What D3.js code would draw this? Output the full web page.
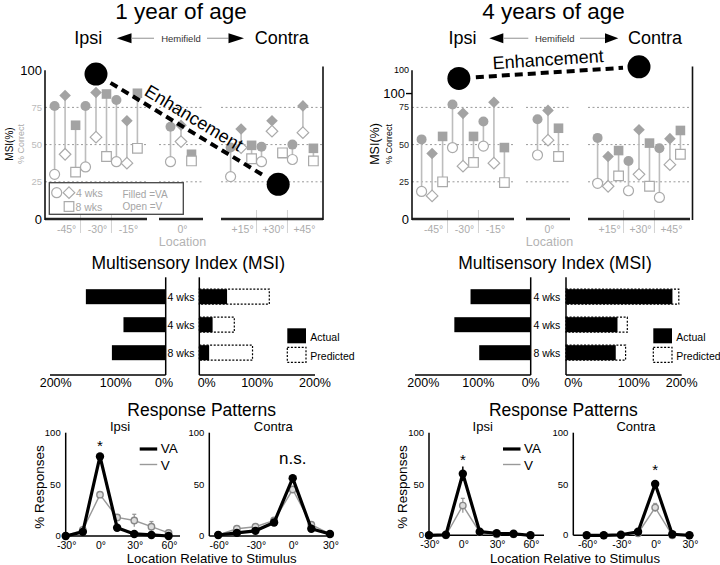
<!DOCTYPE html>
<html><head><meta charset="utf-8">
<script src="https://cdn.jsdelivr.net/npm/d3@7"></script>
<style>
body{margin:0;background:#fff}
svg{display:block}
text{font-family:"Liberation Sans",Arial,Helvetica,sans-serif}
</style>
</head><body>
<svg id="c" width="720" height="565"></svg>
<script>
// ---------------- DATA ----------------
const locations = ["-45°","-30°","-15°","0°","+15°","+30°","+45°"];
const locDeg = [-45,-30,-15,0,15,30,45];
const subjects = ["circle","diamond","square"]; // 4 wks (circle, diamond), 8 wks (square)

// 1 year of age, % correct, filled = VA, open = V
const y1CircleVA  = [76, 76, 80, 62, 48, 48.5, 50];
const y1CircleV   = [30, 35, 38.5, 38.5, 28.5, 38.5, 40];
const y1DiamondVA = [83, 85, 66, 63, 60.5, 66, 76];
const y1DiamondV  = [43.5, 55, 37.5, 52, 48, 59, 58];
const y1SquareVA  = [63, 84, 84.5, 43.5, 49.5, 44, 47.5];
const y1SquareV   = [31.5, 42, 47.5, 39, 40.5, 44.5, 39];

// 4 years of age
const y4CircleVA  = [53.5, 77, 65.5, 67, 54.5, 39, 47.5];
const y4CircleV   = [18.5, 48, 49, 43, 24, 19, 14.5];
const y4DiamondVA = [44, 71, 78.5, 73, 42, 60, 54];
const y4DiamondV  = [15.5, 35.5, 37.5, 53, 22, 30, 36.5];
const y4SquareVA  = [55.5, 55.5, 48, 61, 46, 51, 59.5];
const y4SquareV   = [25, 38, 24.5, 42, 29, 22, 43.5];

// Enhancement (MSI %) markers
const y1EnhLoc = [-30, 33];
const y1EnhMSI = [97.4, 23.3];
const y4EnhLoc = [-32, 30];
const y4EnhMSI = [94.5, 102.3];

// y tick labels of the top panels
const y1YTicks = [100, 75, 50, 25, 0];
const y1YTickText = ["100","75","50","25","0"];
const y4YTicks = [100, 84.3, 75, 50, 25, 0];
const y4YTickText = ["100","100","75","50","25","0"];

// Multisensory Index (MSI), %
const msiRows = ["4 wks","4 wks","8 wks"];
const y1IpsiActual = [138, 73, 93];
const y1ContraActual = [48, 23, 17];
const y1ContraPredicted = [121, 60.5, 92];
const y4IpsiActual = [104, 132, 89];
const y4ContraActual = [184, 89, 86];
const y4ContraPredicted = [195, 106, 103];
const msiTicks = [200, 100, 0];

// Response patterns, % responses
const ipsiDeg = [-30,-15,0,15,30,45,60];
const contraDeg = [-60,-45,-30,-15,0,15,30];
const ipsiTicks = [-30,0,30,60];
const contraTicks = [-60,-30,0,30];
const respYTicks = [0,50,100];

const y1IpsiVA = [0, 4, 77, 8, 2, 1, 0];
const y1IpsiVAErr = [0, 1, 2, 1, 0.5, 0, 0];
const y1IpsiV = [0, 6, 40, 18, 15, 9, 3];
const y1IpsiVErr = [0, 2, 2, 2, 6, 5, 1];
const y1ContraVA = [1, 3, 5, 13, 56, 7, 2];
const y1ContraVAErr = [0, 1, 1, 1, 2, 1, 0];
const y1ContraV = [1, 7, 9, 15, 45, 11, 2];
const y1ContraVErr = [0, 2, 1, 1, 2, 2, 0];

const y4IpsiVA = [0, 0.5, 60, 3.5, 2, 1.5, 0];
const y4IpsiVAErr = [0, 0, 7, 1, 0, 0, 0];
const y4IpsiV = [0, 0, 29, 3, 1, 1, 0];
const y4IpsiVErr = [0, 0, 7, 0, 0, 0, 0];
const y4ContraVA = [0, 0, 0.5, 3.5, 50, 1, 0];
const y4ContraVAErr = [0, 0, 0, 1, 4, 0, 0];
const y4ContraV = [0, 0, 0, 2, 27, 0, 0];
const y4ContraVErr = [0, 0, 0, 0, 4, 0, 0];

// ---------------- DRAWING ----------------
const svg = d3.select("#c");
const GRAYF = "#a3a3a3", GRAYS = "#aaaaaa", STEM = "#bdbdbd";

function txt(g, x, y, s, size, o = {}) {
  const t = g.append("text").attr("x", x).attr("y", y).text(s).attr("font-size", size)
    .attr("text-anchor", o.anchor || "middle").attr("dominant-baseline", o.base || "central")
    .attr("fill", o.fill || "#000");
  if (o.rot !== undefined) t.attr("transform", `rotate(${o.rot},${x},${y})`);
  return t;
}

// headers
const headers = [
  {title:"1 year of age", tx:181, ipsiX:88.3, contraX:281.7, hemiX:181, aL:[116.7,131.5,154], aR:[207,228.5,244]},
  {title:"4 years of age", tx:553.5, ipsiX:462.5, contraX:655, hemiX:554.7, aL:[489.3,503.3,528.3], aR:[580,605,618.3]}
];
headers.forEach(h => {
  const g = svg.append("g");
  txt(g, h.tx, 19, h.title, 22.5, {base:"alphabetic"});
  txt(g, h.ipsiX, 38.3, "Ipsi", 18);
  txt(g, h.contraX, 38.3, "Contra", 18);
  txt(g, h.hemiX, 38.3, "Hemifield", 9.5, {fill:"#333"});
  const yA = 38.3;
  g.append("path").attr("d", `M${h.aL[0]},${yA}L${h.aL[1]},${yA-5}L${h.aL[1]},${yA+5}Z`).attr("fill", "#000");
  g.append("line").attr("x1", h.aL[1]).attr("x2", h.aL[2]).attr("y1", yA).attr("y2", yA).attr("stroke", "#aaa").attr("stroke-width", 1.3);
  g.append("line").attr("x1", h.aR[0]).attr("x2", h.aR[1]).attr("y1", yA).attr("y2", yA).attr("stroke", "#aaa").attr("stroke-width", 1.3);
  g.append("path").attr("d", `M${h.aR[2]},${yA}L${h.aR[1]},${yA-5}L${h.aR[1]},${yA+5}Z`).attr("fill", "#000");
});

// top panels
const segments = [{locs:[-45,-30,-15], a:0, b:102}, {locs:[0], a:114, b:158}, {locs:[15,30,45], a:176, b:278}];

const shapePath = {
  circle: d3.symbol(d3.symbolCircle, Math.PI * 25)(),
  diamond: "M0,-5.8L5.8,0L0,5.8L-5.8,0Z",
  square: "M-4.8,-4.8h9.6v9.6h-9.6Z"
};

const topPanels = [
  {x0:45, w:278,
   series:{circle:[y1CircleVA,y1CircleV], diamond:[y1DiamondVA,y1DiamondV], square:[y1SquareVA,y1SquareV]},
   yTicks:y1YTicks, yText:y1YTickText,
   yStyle:[{s:13,c:"#000"},{s:9.5,c:"#bbb"},{s:9.5,c:"#bbb"},{s:9.5,c:"#bbb"},{s:13,c:"#000"}],
   enhLoc:y1EnhLoc, enhMSI:y1EnhMSI, legend:true,
   msi:{x:9.5, s:10}, corr:{x:20.5, s:9, c:"#aaa"}},
  {x0:412, w:280.5,
   series:{circle:[y4CircleVA,y4CircleV], diamond:[y4DiamondVA,y4DiamondV], square:[y4SquareVA,y4SquareV]},
   yTicks:y4YTicks, yText:y4YTickText,
   yStyle:[{s:9,c:"#000"},{s:13,c:"#000",tick:true},{s:9,c:"#222"},{s:9,c:"#222"},{s:9,c:"#222"},{s:13,c:"#000"}],
   enhLoc:y4EnhLoc, enhMSI:y4EnhMSI, legend:false,
   msi:{x:375, s:12.5}, corr:{x:389, s:9, c:"#000"}}
];

topPanels.forEach(p => {
  const g = svg.append("g");
  const x0 = p.x0;
  const y = d3.scaleLinear().domain([0, 100]).range([219, 70.2]);
  const segs = segments.map(s => ({...s, sc: d3.scalePoint().domain(s.locs).range([x0 + s.a, x0 + s.b]).padding(0.65)}));
  const xOf = deg => { const s = segs.find(s => s.locs.includes(deg)); return s.sc(deg); };
  const xCont = d3.scaleLinear().domain(locDeg).range(locDeg.map(xOf));
  const sub = d3.scalePoint().domain(subjects).range([-10.5, 10.5]);

  segs.forEach(s => [25, 50, 75].forEach(v => {
    g.append("line").attr("x1", x0 + s.a).attr("x2", x0 + s.b).attr("y1", y(v)).attr("y2", y(v))
      .attr("stroke", "#9a9a9a").attr("stroke-width", 1).attr("stroke-dasharray", "2,2.5");
  }));
  segs.forEach(s => {
    for (let i = 1; i < s.locs.length; i++) {
      const xm = (s.sc(s.locs[i - 1]) + s.sc(s.locs[i])) / 2;
      g.append("line").attr("x1", xm).attr("x2", xm).attr("y1", 210).attr("y2", 233).attr("stroke", "#d2d2d2").attr("stroke-width", 1);
    }
  });
  segs.forEach(s => g.append("line").attr("x1", x0 + s.a).attr("x2", x0 + s.b).attr("y1", y(0)).attr("y2", y(0)).attr("stroke", "#222").attr("stroke-width", 2.4));
  g.append("line").attr("x1", x0).attr("x2", x0).attr("y1", y(0) + 1).attr("y2", y(100)).attr("stroke", "#111").attr("stroke-width", 1.6);
  g.append("line").attr("x1", x0 + p.w).attr("x2", x0 + p.w).attr("y1", y(0) + 1).attr("y2", 66.5).attr("stroke", "#111").attr("stroke-width", 1.6);

  locDeg.forEach((d, i) => txt(g, xOf(d) + 1.5, 228.5, locations[i], 10.5, {fill:"#acacac"}));
  txt(g, xOf(0) + 1.5, 241.5, "Location", 12.5, {fill:"#b3b3b3"});

  p.yTicks.forEach((v, i) => {
    const st = p.yStyle[i];
    txt(g, x0 - (st.tick ? 7 : 3), y(v), p.yText[i], st.s, {anchor:"end", fill:st.c});
    if (st.tick) g.append("line").attr("x1", x0 - 6).attr("x2", x0).attr("y1", y(v)).attr("y2", y(v)).attr("stroke", "#000").attr("stroke-width", 1.4);
  });
  txt(g, p.msi.x, 144, "MSI(%)", p.msi.s, {rot:-90});
  txt(g, p.corr.x, 144, "% Correct", p.corr.s, {rot:-90, fill:p.corr.c});

  const pts = [];
  subjects.forEach(s => locDeg.forEach((d, i) => pts.push({s, x: xOf(d) + sub(s), va: p.series[s][0][i], v: p.series[s][1][i]})));
  g.selectAll(".stem").data(pts).join("line").attr("x1", d => d.x).attr("x2", d => d.x)
    .attr("y1", d => y(d.va)).attr("y2", d => y(d.v)).attr("stroke", STEM).attr("stroke-width", 1.6);
  g.selectAll(".f").data(pts).join("path").attr("d", d => shapePath[d.s])
    .attr("transform", d => `translate(${d.x},${y(d.va)})`).attr("fill", GRAYF);
  g.selectAll(".o").data(pts).join("path").attr("d", d => shapePath[d.s])
    .attr("transform", d => `translate(${d.x},${y(d.v)})`).attr("fill", "#fff").attr("stroke", GRAYS).attr("stroke-width", 1.2);

  if (p.legend) {
    const lg = g.append("g");
    lg.append("rect").attr("x", x0 + 4.3).attr("y", 182.7).attr("width", 134).attr("height", 31.6)
      .attr("fill", "#fff").attr("stroke", "#444").attr("stroke-width", 1.3);
    lg.append("path").attr("d", shapePath.circle).attr("transform", `translate(${x0 + 11.7},192.7)`).attr("fill", "#fff").attr("stroke", GRAYS).attr("stroke-width", 1.2);
    lg.append("path").attr("d", shapePath.diamond).attr("transform", `translate(${x0 + 24},192.7)`).attr("fill", "#fff").attr("stroke", GRAYS).attr("stroke-width", 1.2);
    lg.append("path").attr("d", shapePath.square).attr("transform", `translate(${x0 + 24},206.5)`).attr("fill", "#fff").attr("stroke", GRAYS).attr("stroke-width", 1.2);
    txt(lg, x0 + 31, 192.7, "4 wks", 10.5, {anchor:"start", fill:"#a5a5a5"});
    txt(lg, x0 + 30.5, 206.5, "8 wks", 10.5, {anchor:"start", fill:"#a5a5a5"});
    txt(lg, x0 + 77.5, 194, "Filled =VA", 10, {anchor:"start", fill:"#a5a5a5"});
    txt(lg, x0 + 77.5, 206.7, "Open =V", 10, {anchor:"start", fill:"#a5a5a5"});
  }

  const e = p.enhLoc.map((l, i) => ({x: xCont(l), y: y(p.enhMSI[i])}));
  const dx = e[1].x - e[0].x, dy = e[1].y - e[0].y, L = Math.hypot(dx, dy), ux = dx / L, uy = dy / L;
  g.append("line").attr("x1", e[0].x + ux * 17).attr("y1", e[0].y + uy * 17)
    .attr("x2", e[1].x - ux * 16).attr("y2", e[1].y - uy * 16)
    .attr("stroke", "#000").attr("stroke-width", 4).attr("stroke-dasharray", "8,5");
  g.selectAll(".enh").data(e).join("circle").attr("cx", d => d.x).attr("cy", d => d.y).attr("r", 11.5).attr("fill", "#000");
  const ang = Math.atan2(dy, dx) * 180 / Math.PI;
  const mx = (e[0].x + e[1].x) / 2 + uy * 13, my = (e[0].y + e[1].y) / 2 - ux * 13;
  txt(g, mx, my, "Enhancement", 18, {rot: ang});
});

// middle panels (MSI bars)
const msiPanels = [
  {tx:188.3, zi:165.7, zc:199.3, ipsi:y1IpsiActual, act:y1ContraActual, pred:y1ContraPredicted, legX:287.3,
   nudgeI:[5.7, 7.9, -1.7], nudgeC:[7.4, 0, 0]},
  {tx:555, zi:530.7, zc:566, ipsi:y4IpsiActual, act:y4ContraActual, pred:y4ContraPredicted, legX:653.3,
   nudgeI:[8.3, 5.5, 0], nudgeC:[7.3, 10, 0]}
];
msiPanels.forEach(p => {
  const g = svg.append("g");
  txt(g, p.tx, 263, "Multisensory Index (MSI)", 17.5);
  const xi = d3.scaleLinear().domain([0, 200]).range([p.zi, p.zi - 115.7]);
  const xc = d3.scaleLinear().domain([0, 200]).range([p.zc, p.zc + 115.7]);
  const yr = d3.scalePoint().domain(d3.range(msiRows.length)).range([296.7, 352.7]);
  const bh = 15;
  g.selectAll(".pr").data(p.pred).join("rect").attr("x", xc(0)).attr("y", (d, i) => yr(i) - bh / 2)
    .attr("width", d => xc(d) - xc(0)).attr("height", bh).attr("fill", "none").attr("stroke", "#000")
    .attr("stroke-width", 1.2).attr("stroke-dasharray", "2,1.6");
  g.selectAll(".ac").data(p.act).join("rect").attr("x", xc(0)).attr("y", (d, i) => yr(i) - bh / 2)
    .attr("width", d => xc(d) - xc(0)).attr("height", bh).attr("fill", "#000");
  g.selectAll(".ip").data(p.ipsi).join("rect").attr("x", d => xi(d)).attr("y", (d, i) => yr(i) - bh / 2)
    .attr("width", d => xi(0) - xi(d)).attr("height", bh).attr("fill", "#000");
  [[xi, p.zi], [xc, p.zc]].forEach(([sc, z]) => {
    g.append("line").attr("x1", z).attr("x2", z).attr("y1", 277.3).attr("y2", 375).attr("stroke", "#000").attr("stroke-width", 1.5);
    g.append("line").attr("x1", sc(0)).attr("x2", sc(200)).attr("y1", 375).attr("y2", 375).attr("stroke", "#000").attr("stroke-width", 1.5);
  });
  msiTicks.forEach((t, i) => txt(g, xi(t) + p.nudgeI[i], 383, t + "%", 12.5));
  [0, 100, 200].forEach((t, i) => txt(g, xc(t) + p.nudgeC[i], 383, t + "%", 12.5));
  msiRows.forEach((r, i) => txt(g, (p.zi + p.zc) / 2 - 1.5, yr(i), r, 10.5));
  g.append("rect").attr("x", p.legX).attr("y", 328.3).attr("width", 18.7).attr("height", 15).attr("fill", "#000");
  g.append("rect").attr("x", p.legX).attr("y", 347.3).attr("width", 18.7).attr("height", 15).attr("fill", "none")
    .attr("stroke", "#000").attr("stroke-width", 1.2).attr("stroke-dasharray", "2,1.6");
  txt(g, p.legX + 23, 336.5, "Actual", 10.5, {anchor:"start"});
  txt(g, p.legX + 23, 355.5, "Predicted", 10.5, {anchor:"start"});
});

// bottom panels (response patterns)
const respPanels = [
  {tx:201.7, labX:39.3, xlabX:211.7, legX0:65.7,
   subs:[
     {x0:65.7, x1:180, dom:[-30,70], y0:536, y1:432.7, deg:ipsiDeg, ticks:ipsiTicks, va:y1IpsiVA, vaE:y1IpsiVAErr, v:y1IpsiV, vE:y1IpsiVErr, label:"Ipsi", labX:120, ann:"*", annSize:15, annDy:0},
     {x0:209.3, x1:333.3, dom:[-67.2,32.7], y0:536, y1:432.7, deg:contraDeg, ticks:contraTicks, va:y1ContraVA, vaE:y1ContraVAErr, v:y1ContraV, vE:y1ContraVErr, label:"Contra", labX:273.3, ann:"n.s.", annSize:17, annDy:-9}
   ]},
  {tx:563.3, labX:402.7, xlabX:575, legX0:429,
   subs:[
     {x0:429, x1:544, dom:[-30,72], y0:535.3, y1:432.7, deg:ipsiDeg, ticks:ipsiTicks, va:y4IpsiVA, vaE:y4IpsiVAErr, v:y4IpsiV, vE:y4IpsiVErr, label:"Ipsi", labX:482.7, ann:"*", annSize:15, annDy:1},
     {x0:573.3, x1:693.3, dom:[-71.7,33.4], y0:535.3, y1:432.7, deg:contraDeg, ticks:contraTicks, va:y4ContraVA, vaE:y4ContraVAErr, v:y4ContraV, vE:y4ContraVErr, label:"Contra", labX:636, ann:"*", annSize:15, annDy:-2}
   ]}
];
respPanels.forEach(p => {
  const g = svg.append("g");
  txt(g, p.tx, 409.5, "Response Patterns", 17.5);
  txt(g, p.labX, 487, "% Responses", 13.5, {rot:-90});
  txt(g, p.xlabX, 558.5, "Location Relative to Stimulus", 13.2);
  g.append("line").attr("x1", p.legX0 + 74).attr("x2", p.legX0 + 91.5).attr("y1", 449).attr("y2", 449).attr("stroke", "#000").attr("stroke-width", 3.2);
  g.append("line").attr("x1", p.legX0 + 74).attr("x2", p.legX0 + 91.5).attr("y1", 464.5).attr("y2", 464.5).attr("stroke", "#999").attr("stroke-width", 1.4);
  txt(g, p.legX0 + 95, 448.8, "VA", 13.5, {anchor:"start"});
  txt(g, p.legX0 + 95, 465, "V", 13.5, {anchor:"start"});

  p.subs.forEach(s => {
    const x = d3.scaleLinear().domain(s.dom).range([s.x0, s.x1]);
    const y = d3.scaleLinear().domain([0, 100]).range([s.y0, s.y1]);
    g.append("line").attr("x1", s.x0).attr("x2", s.x0).attr("y1", s.y0).attr("y2", s.y1).attr("stroke", "#000").attr("stroke-width", 1.5);
    g.append("line").attr("x1", s.x0).attr("x2", s.x1).attr("y1", s.y0).attr("y2", s.y0).attr("stroke", "#000").attr("stroke-width", 1.5);
    respYTicks.forEach(t => txt(g, s.x0 - 5, t === 0 ? y(t) - 1 : y(t), String(t), 9.5, {anchor:"end"}));
    s.ticks.forEach(t => txt(g, x(t) + 1, s.y0 + 9, t + "°", 10.5));
    txt(g, s.labX, 426.7, s.label, 13);

    const vPts = s.deg.map((d, i) => ({x: x(d), v: s.v[i], e: s.vE[i]}));
    const vaPts = s.deg.map((d, i) => ({x: x(d), v: s.va[i], e: s.vaE[i]}));
    const line = d3.line().x(d => d.x).y(d => y(d.v));
    const vErr = vPts.filter(d => d.e > 0);
    g.selectAll(null).data(vErr).join("line").attr("x1", d => d.x).attr("x2", d => d.x)
      .attr("y1", d => y(d.v - d.e)).attr("y2", d => y(d.v + d.e)).attr("stroke", "#999").attr("stroke-width", 1.3);
    g.selectAll(null).data(vErr).join("line").attr("x1", d => d.x - 2).attr("x2", d => d.x + 2)
      .attr("y1", d => y(d.v + d.e)).attr("y2", d => y(d.v + d.e)).attr("stroke", "#999").attr("stroke-width", 1.3);
    g.append("path").datum(vPts).attr("d", line).attr("fill", "none").attr("stroke", "#999").attr("stroke-width", 1.4);
    g.selectAll(null).data(vPts).join("circle").attr("cx", d => d.x).attr("cy", d => y(d.v))
      .attr("r", 3.2).attr("fill", "#ddd").attr("stroke", "#888").attr("stroke-width", 1.4);
    const vaErr = vaPts.filter(d => d.e > 0);
    g.selectAll(null).data(vaErr).join("line").attr("x1", d => d.x).attr("x2", d => d.x)
      .attr("y1", d => y(d.v - d.e)).attr("y2", d => y(d.v + d.e)).attr("stroke", "#000").attr("stroke-width", 1.5);
    g.append("path").datum(vaPts).attr("d", line).attr("fill", "none").attr("stroke", "#000").attr("stroke-width", 3.2).attr("stroke-linejoin", "round");
    g.selectAll(null).data(vaPts).join("circle").attr("cx", d => d.x).attr("cy", d => y(d.v))
      .attr("r", 4.2).attr("fill", "#000");
    const k = d3.maxIndex(s.va);
    txt(g, vaPts[k].x, y(s.va[k] + s.vaE[k]) - 3 + s.annDy, s.ann, s.annSize, {base:"alphabetic"});
  });
});
</script>
</body></html>
